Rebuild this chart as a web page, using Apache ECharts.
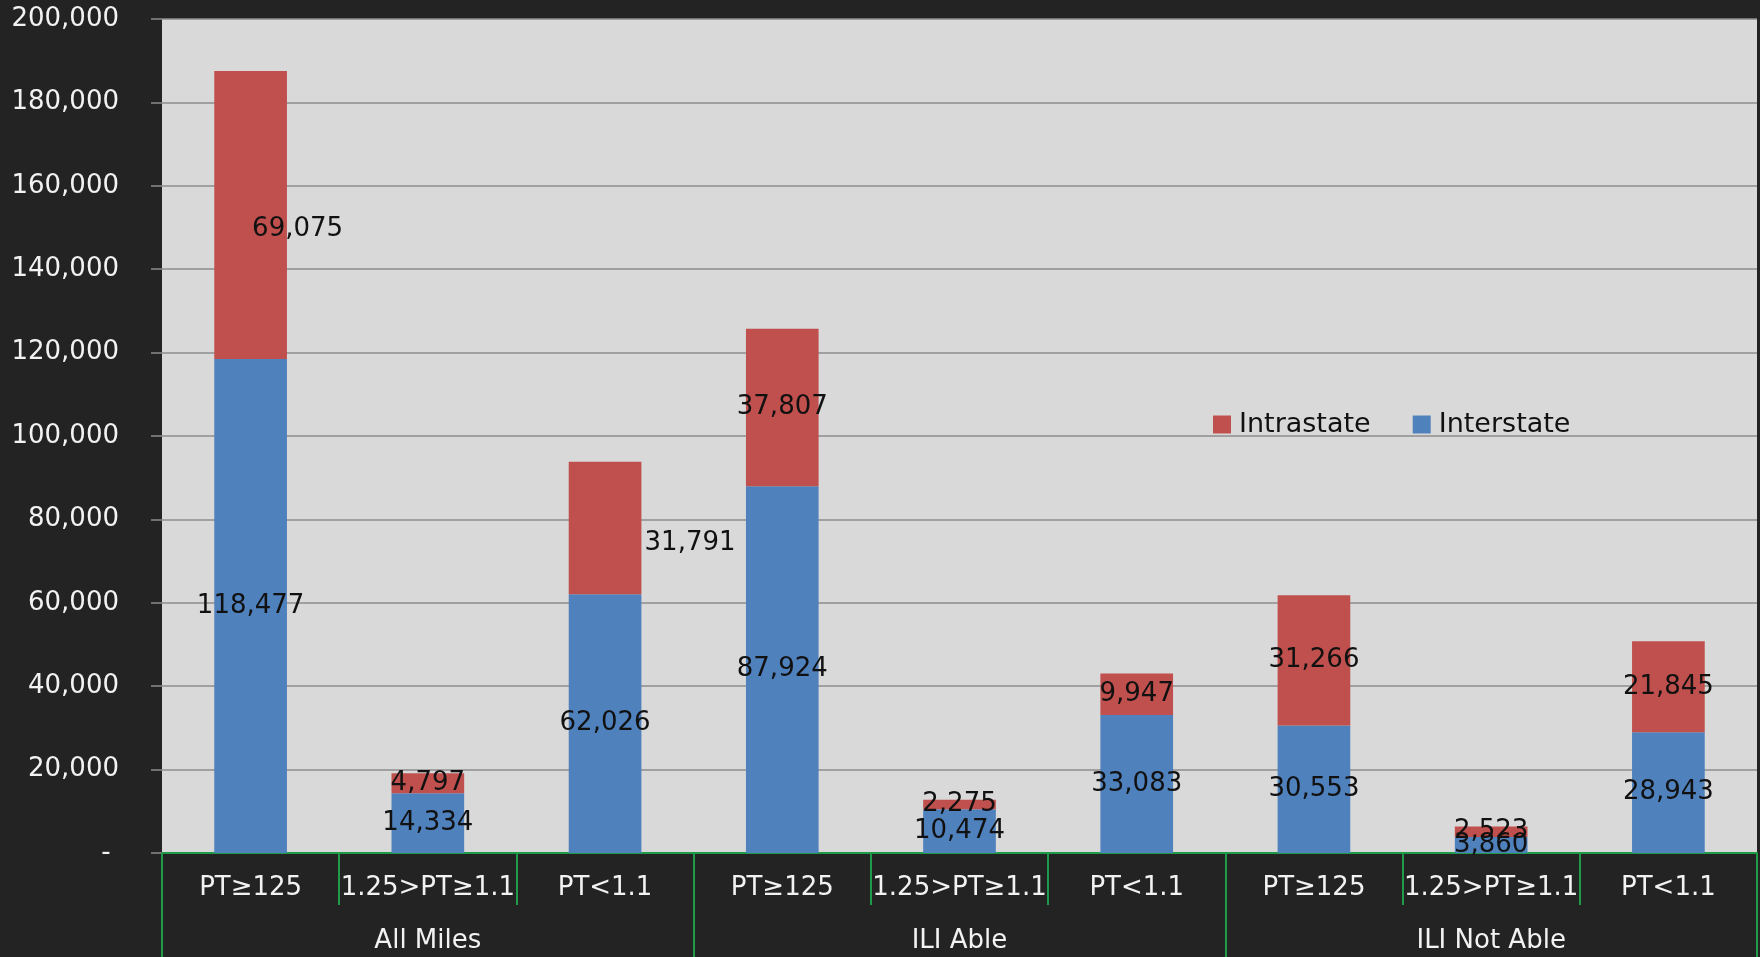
<!DOCTYPE html>
<html>
<head>
<meta charset="utf-8">
<script src="https://cdn.jsdelivr.net/npm/echarts@6/dist/echarts.min.js"></script>
<style>
html,body{margin:0;padding:0;background:#232323;}
#chart{width:1760px;height:957px;}
</style>
</head>
<body>
<div id="chart"></div>
<script>
const categories = ['PT≥125', '1.25>PT≥1.1', 'PT<1.1', 'PT≥125', '1.25>PT≥1.1', 'PT<1.1', 'PT≥125', '1.25>PT≥1.1', 'PT<1.1'];
const groups = ['All Miles', 'ILI Able', 'ILI Not Able'];
const interstate = [118477, 14334, 62026, 87924, 10474, 33083, 30553, 3860, 28943];
const intrastate = [69075, 4797, 31791, 37807, 2275, 9947, 31266, 2523, 21845];
const yTicks = { min: 0, max: 200000, interval: 20000 };

const FONT = 'DejaVu Sans';
const FS = 26;
const GREEN = '#1f9a48';
const fmt = v => Number(v).toLocaleString('en-US');

// label displacement (style only) for the two moved labels in the reference
const intraLabelShift = { 0: [47, 14], 2: [85, 15] };

const chart = echarts.init(document.getElementById('chart'));
const labelStyle = {
  show: true, position: 'inside', color: '#111', fontFamily: FONT, fontSize: FS,
  formatter: p => fmt(p.value)
};

chart.setOption({
  backgroundColor: '#232323',
  animation: false,
  textStyle: { fontFamily: FONT },
  legend: {
    data: ['Intrastate', 'Interstate'],
    left: 1208, top: 406,
    itemWidth: 18, itemHeight: 18, itemGap: 42,
    icon: 'rect',
    textStyle: { color: '#111', fontSize: 27, fontFamily: FONT, padding: [0, 0, 0, 3] }
  },
  grid: {
    left: 162, right: 3, top: 19, bottom: 104,
    show: true, backgroundColor: '#d9d9d9', borderWidth: 0
  },
  xAxis: [
    {
      type: 'category', data: categories,
      axisLine: { show: true, lineStyle: { color: GREEN, width: 2 } },
      axisTick: { show: true, interval: 0, length: 52, alignWithLabel: false, lineStyle: { color: GREEN, width: 2 } },
      axisLabel: { interval: 0, color: '#f2f2f2', fontSize: FS, fontFamily: FONT, margin: 22 },
      splitLine: { show: false }
    },
    {
      type: 'category', data: groups, position: 'bottom', offset: 52,
      axisLine: { show: false },
      axisTick: { show: true, interval: 0, length: 54, alignWithLabel: false, lineStyle: { color: GREEN, width: 2 } },
      axisLabel: { interval: 0, color: '#f2f2f2', fontSize: FS, fontFamily: FONT, margin: 23 },
      splitLine: { show: false }
    }
  ],
  yAxis: {
    type: 'value', min: yTicks.min, max: yTicks.max, interval: yTicks.interval,
    axisLine: { show: false },
    axisTick: { show: true, length: 11, lineStyle: { color: '#8c8c8c', width: 1.5 } },
    axisLabel: {
      color: '#f2f2f2', fontSize: FS, fontFamily: FONT, margin: 43,
      formatter: v => v === 0 ? '- ' : fmt(v)
    },
    splitLine: { show: true, lineStyle: { color: '#8c8c8c', width: 1.5 } }
  },
  series: [
    {
      name: 'Interstate', type: 'bar', stack: 'total', barWidth: '41%',
      itemStyle: { color: '#4f81bd' },
      label: labelStyle,
      data: interstate
    },
    {
      name: 'Intrastate', type: 'bar', stack: 'total', barWidth: '41%',
      itemStyle: { color: '#c0504d' },
      label: labelStyle,
      data: intrastate.map((v, i) => intraLabelShift[i]
        ? { value: v, label: { offset: intraLabelShift[i] } }
        : v)
    }
  ]
});
</script>
</body>
</html>
